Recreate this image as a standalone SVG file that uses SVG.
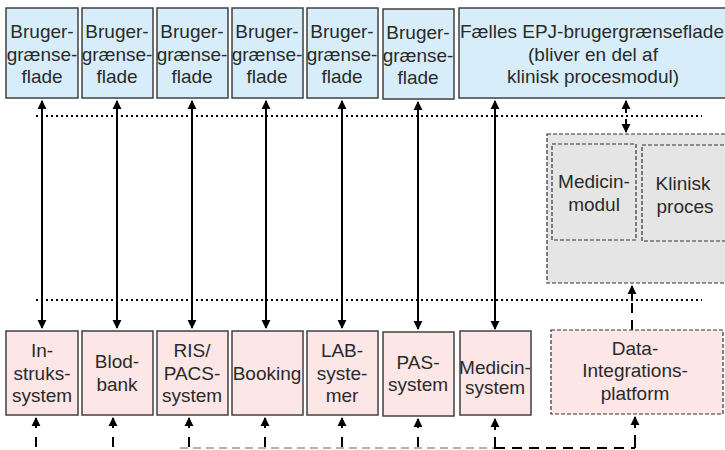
<svg xmlns="http://www.w3.org/2000/svg" width="725" height="450" viewBox="0 0 725 450">
<style>
text{font-family:"Liberation Sans",Arial,sans-serif;font-size:19px;fill:#2a2a2a;text-anchor:middle}
.ui{fill:#d7eefa;stroke:#404040;stroke-width:1.5}
.sys{fill:#fde6e6;stroke:#404040;stroke-width:1.5}
.dsh{stroke:#333;stroke-width:1.2;stroke-dasharray:4,2}
.arr{stroke:#000;stroke-width:2;fill:none}
.dot{stroke:#000;stroke-width:2;stroke-dasharray:2,3;fill:none}
.dash{stroke:#000;stroke-width:2;stroke-dasharray:10,7;fill:none}
</style>
<defs>
<marker id="ah" viewBox="0 0 10 10" refX="9" refY="5" markerWidth="4.5" markerHeight="5" orient="auto-start-reverse" markerUnits="strokeWidth">
<path d="M0,0L10,5L0,10z" fill="#000"/>
</marker>
</defs>
<rect width="725" height="450" fill="#fff"/>
<g id="container-clinical">
<rect x="547" y="134" width="182" height="149" fill="#e5e5e5" class="dsh"/>
</g>
<g id="medicin-modul">
<rect x="552" y="144" width="84" height="96" fill="#e5e5e5" class="dsh"/>
<text x="594" y="188">Medicin-</text><text x="594" y="211">modul</text>
</g>
<g id="klinisk-proces">
<rect x="642" y="145" width="90" height="96" fill="#e5e5e5" class="dsh"/>
<text x="683" y="190">Klinisk</text><text x="685" y="213">proces</text>
</g>
<g id="connectors">
<line class="dot" x1="36" y1="116" x2="702" y2="116"/>
<line class="dot" x1="36" y1="300" x2="702" y2="300"/>
<line class="arr" x1="42" y1="101" x2="42" y2="328" marker-start="url(#ah)" marker-end="url(#ah)"/>
<line class="arr" x1="117" y1="101" x2="117" y2="328" marker-start="url(#ah)" marker-end="url(#ah)"/>
<line class="arr" x1="192" y1="101" x2="192" y2="328" marker-start="url(#ah)" marker-end="url(#ah)"/>
<line class="arr" x1="266" y1="101" x2="266" y2="328" marker-start="url(#ah)" marker-end="url(#ah)"/>
<line class="arr" x1="342" y1="101" x2="342" y2="328" marker-start="url(#ah)" marker-end="url(#ah)"/>
<line class="arr" x1="418" y1="102" x2="418" y2="329" marker-start="url(#ah)" marker-end="url(#ah)"/>
<line class="arr" x1="495" y1="101" x2="495" y2="329" marker-start="url(#ah)" marker-end="url(#ah)"/>
<line class="arr" x1="626" y1="101" x2="626" y2="113" marker-start="url(#ah)"/>
<line class="arr" x1="626" y1="119" x2="626" y2="132" marker-end="url(#ah)"/>
<line class="dash" x1="632" y1="330" x2="632" y2="300" stroke-dasharray="10,5"/>
<line class="arr" x1="632" y1="299" x2="632" y2="286" marker-end="url(#ah)"/>
<line x1="180" y1="448" x2="495" y2="448" stroke="#999" stroke-width="1.5" stroke-dasharray="8,5"/>
<path class="dash" d="M495,448H635" stroke-width="1.5" stroke="#555" stroke-dasharray="8,5"/>
<g>
<line class="arr" x1="36" y1="428" x2="36" y2="418" marker-end="url(#ah)"/>
<line class="arr" x1="36" y1="437" x2="36" y2="447"/>
<line class="arr" x1="113" y1="428" x2="113" y2="418" marker-end="url(#ah)"/>
<line class="arr" x1="113" y1="437" x2="113" y2="447"/>
<line class="arr" x1="189" y1="428" x2="189" y2="418" marker-end="url(#ah)"/>
<line class="arr" x1="189" y1="437" x2="189" y2="447"/>
<line class="arr" x1="265" y1="428" x2="265" y2="418" marker-end="url(#ah)"/>
<line class="arr" x1="265" y1="437" x2="265" y2="447"/>
<line class="arr" x1="342" y1="428" x2="342" y2="418" marker-end="url(#ah)"/>
<line class="arr" x1="342" y1="437" x2="342" y2="447"/>
<line class="arr" x1="418" y1="428" x2="418" y2="419" marker-end="url(#ah)"/>
<line class="arr" x1="418" y1="437" x2="418" y2="447"/>
<line class="arr" x1="495" y1="430" x2="495" y2="419" marker-end="url(#ah)"/>
<line class="arr" x1="495" y1="437" x2="495" y2="449"/>
<line class="arr" x1="635" y1="428" x2="635" y2="417" marker-end="url(#ah)"/>
<line class="arr" x1="635" y1="435" x2="635" y2="448"/>
</g>
</g>
<g id="ui1"><rect class="ui" x="6" y="8" width="72" height="90"/><text x="42" y="38">Bruger-</text><text x="42" y="61">grænse-</text><text x="42" y="83">flade</text></g>
<g id="ui2"><rect class="ui" x="82" y="8" width="71" height="90"/><text x="117" y="38">Bruger-</text><text x="117" y="61">grænse-</text><text x="117" y="83">flade</text></g>
<g id="ui3"><rect class="ui" x="157" y="8" width="71" height="90"/><text x="192" y="38">Bruger-</text><text x="192" y="61">grænse-</text><text x="192" y="83">flade</text></g>
<g id="ui4"><rect class="ui" x="232" y="8" width="71" height="90"/><text x="267" y="38">Bruger-</text><text x="267" y="61">grænse-</text><text x="267" y="83">flade</text></g>
<g id="ui5"><rect class="ui" x="307" y="8" width="71" height="90"/><text x="342" y="38">Bruger-</text><text x="342" y="61">grænse-</text><text x="342" y="83">flade</text></g>
<g id="ui6"><rect class="ui" x="383" y="9" width="71" height="90"/><text x="418" y="39">Bruger-</text><text x="418" y="62">grænse-</text><text x="418" y="84">flade</text></g>
<g id="ui-epj"><rect class="ui" x="459" y="8" width="270" height="90"/><text x="592" y="38">Fælles EPJ-brugergrænseflade</text><text x="593" y="61">(bliver en del af</text><text x="593" y="83">klinisk procesmodul)</text></g>
<g id="sys1"><rect class="sys" x="6" y="331" width="72" height="84"/><text x="42" y="357">In-</text><text x="42" y="380">struks-</text><text x="42" y="402">system</text></g>
<g id="sys2"><rect class="sys" x="82" y="331" width="71" height="84"/><text x="117" y="368">Blod-</text><text x="117" y="391">bank</text></g>
<g id="sys3"><rect class="sys" x="157" y="331" width="71" height="84"/><text x="192" y="357">RIS/</text><text x="192" y="380">PACS-</text><text x="192" y="402">system</text></g>
<g id="sys4"><rect class="sys" x="232" y="331" width="71" height="84"/><text x="267" y="380">Booking</text></g>
<g id="sys5"><rect class="sys" x="307" y="331" width="71" height="84"/><text x="342" y="357">LAB-</text><text x="342" y="380">syste-</text><text x="342" y="402">mer</text></g>
<g id="sys6"><rect class="sys" x="383" y="332" width="71" height="84"/><text x="418" y="369">PAS-</text><text x="418" y="391">system</text></g>
<g id="sys7"><rect class="sys" x="460" y="331" width="71" height="84"/><text x="495" y="374">Medicin-</text><text x="495" y="394">system</text></g>
<g id="dip"><rect x="551" y="330" width="172" height="84" fill="#fde6e6" class="dsh"/><text x="635" y="355">Data-</text><text x="635" y="377">Integrations-</text><text x="635" y="400">platform</text></g>
</svg>
